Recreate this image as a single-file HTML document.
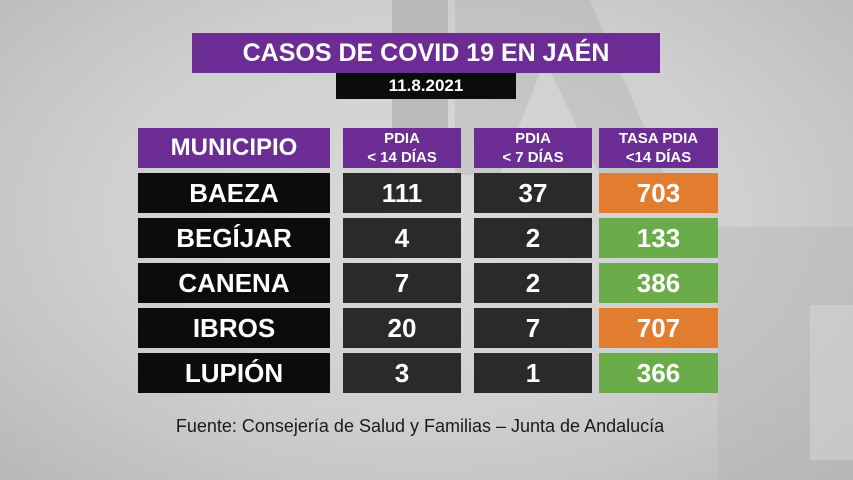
<!DOCTYPE html>
<html><head><meta charset="utf-8">
<style>
html,body{margin:0;padding:0}
body{width:853px;height:480px;overflow:hidden;position:relative;
 background:radial-gradient(ellipse at 50% 45%,#dadada 0%,#cfcfcf 55%,#b8b8b8 100%);
 font-family:"Liberation Sans",sans-serif;}
.abs{position:absolute;box-sizing:border-box;display:flex;align-items:center;justify-content:center;color:#fff;font-weight:bold}
.purple{background:#6b2d93}
.blk{background:#0c0c0c}
.dk{background:#2a2a2a}
.org{background:#e27d30}
.grn{background:#6aac4a}
.hdr{font-size:15px;line-height:19px;text-align:center;flex-direction:column}
.num{font-size:26px}
</style></head><body>
<svg width="853" height="480" style="position:absolute;left:0;top:0">
 <polygon points="392,0 448,0 448,140 392,140" fill="#8f8f8f" opacity="0.35"/>
 <polygon points="455,0 590,0 665,175 600,175 545,60 500,175 455,175" fill="#9a9a9a" opacity="0.25"/>
 <rect x="718" y="227" width="135" height="253" fill="#b4b4b4" opacity="0.4"/>
 <rect x="810" y="305" width="43" height="155" fill="#d8d8d8" opacity="0.5"/>
</svg>
<div class="abs purple" style="left:192px;top:33px;width:468px;height:40px;font-size:25px">CASOS DE COVID 19 EN JAÉN</div>
<div class="abs blk" style="left:336px;top:73px;width:180px;height:26px;font-size:17px">11.8.2021</div>

<div class="abs purple" style="left:138px;top:128px;width:192px;height:40px;font-size:24px">MUNICIPIO</div>
<div class="abs purple hdr" style="left:343px;top:128px;width:118px;height:40px"><span>PDIA</span><span>&lt; 14 DÍAS</span></div>
<div class="abs purple hdr" style="left:474px;top:128px;width:118px;height:40px"><span>PDIA</span><span>&lt; 7 DÍAS</span></div>
<div class="abs purple hdr" style="left:599px;top:128px;width:119px;height:40px"><span>TASA PDIA</span><span>&lt;14 DÍAS</span></div>

<div id="rows"></div>

<div class="abs" style="left:120px;top:414px;width:600px;height:24px;color:#1a1a1a;font-weight:normal;font-size:18px">Fuente: Consejería de Salud y Familias – Junta de Andalucía</div>

<script>
const municipios=["BAEZA","BEGÍJAR","CANENA","IBROS","LUPIÓN"];
const pdia14=[111,4,7,20,3];
const pdia7=[37,2,2,7,1];
const tasa=[703,133,386,707,366];
const root=document.getElementById('rows');
function cell(x,w,y,cls,txt,name){
 const d=document.createElement('div');
 d.className='abs num '+cls;
 d.style.left=x+'px';d.style.top=y+'px';d.style.width=w+'px';d.style.height='40px';
 d.textContent=txt;
 
 
 root.appendChild(d);
}
municipios.forEach((m,i)=>{
 const y=173+i*45;
 cell(138,192,y,'blk',m,'municipio-cell');
 cell(343,118,y,'dk',pdia14[i],'pdia14-cell');
 cell(474,118,y,'dk',pdia7[i],'pdia7-cell');
 cell(599,119,y,tasa[i]>500?'org':'grn',tasa[i],'tasa-cell');
});
</script>
</body></html>
